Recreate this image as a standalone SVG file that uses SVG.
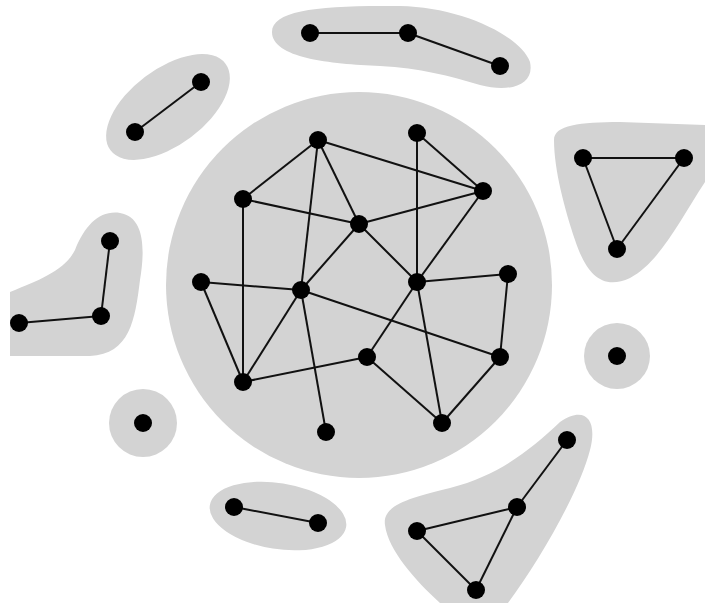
<svg xmlns="http://www.w3.org/2000/svg" width="705" height="606" viewBox="0 0 705 606">
<style>
.blob{fill:#d3d3d3;stroke:none}
.edge{stroke:#111;stroke-width:2;fill:none}
.node{fill:#000}
</style>
<rect width="705" height="606" fill="#fff"/>
<g id="blobs">
<circle id="big" class="blob" cx="359" cy="285" r="193"/>
<path id="blob-top" class="blob" d="M272,32 C272,10 320,5 400,6 C460,7 520,35 530,62 C535,85 510,93 480,85 C450,76 420,68 380,66 C330,64 272,58 272,32 Z"/>
<ellipse id="blob-tl" class="blob" cx="168" cy="107" rx="72" ry="38" transform="rotate(-37 168 107)"/>
<path id="blob-left" class="blob" d="M10,292 C40,280 65,270 75,250 C85,225 100,210 120,213 C145,217 145,250 140,280 C135,320 130,354 90,356 L10,356 Z"/>
<path id="blob-right" class="blob" d="M554,140 C554,125 580,122 620,122 L705,125 L705,182 C680,220 660,262 630,278 C600,292 585,270 575,240 C565,210 554,170 554,140 Z"/>
<circle id="blob-rs" class="blob" cx="617" cy="356" r="33"/>
<circle id="blob-ls" class="blob" cx="143" cy="423" r="34"/>
<ellipse id="blob-bottom" class="blob" cx="278" cy="516" rx="69" ry="33" transform="rotate(9 278 516)"/>
<path id="blob-br" class="blob" d="M385,525 C382,505 410,498 450,488 C500,475 530,450 560,422 C585,405 598,420 590,450 C580,490 540,560 508,603 L440,603 C415,580 388,550 385,525 Z"/>
</g>
<g id="connectors">
<line class="edge" x1="318" y1="140" x2="243" y2="199"/>
<line class="edge" x1="318" y1="140" x2="483" y2="191"/>
<line class="edge" x1="318" y1="140" x2="301" y2="290"/>
<line class="edge" x1="318" y1="140" x2="359" y2="224"/>
<line class="edge" x1="417" y1="133" x2="417" y2="282"/>
<line class="edge" x1="417" y1="133" x2="483" y2="191"/>
<line class="edge" x1="243" y1="199" x2="359" y2="224"/>
<line class="edge" x1="243" y1="199" x2="243" y2="382"/>
<line class="edge" x1="359" y1="224" x2="483" y2="191"/>
<line class="edge" x1="359" y1="224" x2="301" y2="290"/>
<line class="edge" x1="359" y1="224" x2="417" y2="282"/>
<line class="edge" x1="483" y1="191" x2="417" y2="282"/>
<line class="edge" x1="201" y1="282" x2="301" y2="290"/>
<line class="edge" x1="201" y1="282" x2="243" y2="382"/>
<line class="edge" x1="301" y1="290" x2="243" y2="382"/>
<line class="edge" x1="301" y1="290" x2="326" y2="432"/>
<line class="edge" x1="301" y1="290" x2="500" y2="357"/>
<line class="edge" x1="417" y1="282" x2="508" y2="274"/>
<line class="edge" x1="417" y1="282" x2="367" y2="357"/>
<line class="edge" x1="417" y1="282" x2="442" y2="423"/>
<line class="edge" x1="508" y1="274" x2="500" y2="357"/>
<line class="edge" x1="367" y1="357" x2="243" y2="382"/>
<line class="edge" x1="367" y1="357" x2="442" y2="423"/>
<line class="edge" x1="500" y1="357" x2="442" y2="423"/>
<line class="edge" x1="310" y1="33" x2="408" y2="33"/>
<line class="edge" x1="408" y1="33" x2="500" y2="66"/>
<line class="edge" x1="135" y1="132" x2="201" y2="82"/>
<line class="edge" x1="110" y1="241" x2="101" y2="316"/>
<line class="edge" x1="101" y1="316" x2="19" y2="323"/>
<line class="edge" x1="583" y1="158" x2="684" y2="158"/>
<line class="edge" x1="583" y1="158" x2="617" y2="249"/>
<line class="edge" x1="684" y1="158" x2="617" y2="249"/>
<line class="edge" x1="234" y1="507" x2="318" y2="523"/>
<line class="edge" x1="567" y1="440" x2="517" y2="507"/>
<line class="edge" x1="517" y1="507" x2="417" y2="531"/>
<line class="edge" x1="417" y1="531" x2="476" y2="590"/>
<line class="edge" x1="476" y1="590" x2="517" y2="507"/>
</g>
<g id="nodes">
<circle id="n1" class="node" cx="318" cy="140" r="9"/>
<circle id="n2" class="node" cx="417" cy="133" r="9"/>
<circle id="n3" class="node" cx="483" cy="191" r="9"/>
<circle id="n4" class="node" cx="243" cy="199" r="9"/>
<circle id="n5" class="node" cx="359" cy="224" r="9"/>
<circle id="n6" class="node" cx="201" cy="282" r="9"/>
<circle id="n7" class="node" cx="301" cy="290" r="9"/>
<circle id="n8" class="node" cx="417" cy="282" r="9"/>
<circle id="n9" class="node" cx="508" cy="274" r="9"/>
<circle id="n10" class="node" cx="367" cy="357" r="9"/>
<circle id="n11" class="node" cx="500" cy="357" r="9"/>
<circle id="n12" class="node" cx="243" cy="382" r="9"/>
<circle id="n13" class="node" cx="326" cy="432" r="9"/>
<circle id="n14" class="node" cx="442" cy="423" r="9"/>
<circle id="n15" class="node" cx="310" cy="33" r="9"/>
<circle id="n16" class="node" cx="408" cy="33" r="9"/>
<circle id="n17" class="node" cx="500" cy="66" r="9"/>
<circle id="n18" class="node" cx="135" cy="132" r="9"/>
<circle id="n19" class="node" cx="201" cy="82" r="9"/>
<circle id="n20" class="node" cx="110" cy="241" r="9"/>
<circle id="n21" class="node" cx="101" cy="316" r="9"/>
<circle id="n22" class="node" cx="19" cy="323" r="9"/>
<circle id="n23" class="node" cx="583" cy="158" r="9"/>
<circle id="n24" class="node" cx="684" cy="158" r="9"/>
<circle id="n25" class="node" cx="617" cy="249" r="9"/>
<circle id="n26" class="node" cx="617" cy="356" r="9"/>
<circle id="n27" class="node" cx="143" cy="423" r="9"/>
<circle id="n28" class="node" cx="234" cy="507" r="9"/>
<circle id="n29" class="node" cx="318" cy="523" r="9"/>
<circle id="n30" class="node" cx="567" cy="440" r="9"/>
<circle id="n31" class="node" cx="517" cy="507" r="9"/>
<circle id="n32" class="node" cx="417" cy="531" r="9"/>
<circle id="n33" class="node" cx="476" cy="590" r="9"/>
</g>
</svg>
